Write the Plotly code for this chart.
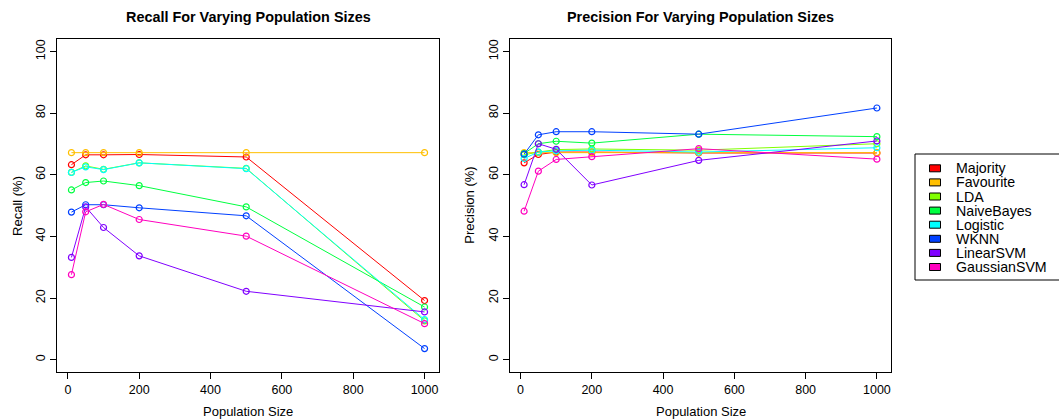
import plotly.graph_objects as go

# Population sizes evaluated
pop_sizes = [10, 50, 100, 200, 500, 1000]

classifiers = ["Majority", "Favourite", "LDA", "NaiveBayes", "Logistic",
               "WKNN", "LinearSVM", "GaussianSVM"]

# rainbow(8) palette
colors = ["#FF0000", "#FFBF00", "#80FF00", "#00FF40", "#00FFFF",
          "#0040FF", "#8000FF", "#FF00BF"]

# Recall (%) per classifier
recall_majority = [63.3, 66.5, 66.5, 66.6, 65.8, 19.2]
recall_favourite = [67.2, 67.2, 67.2, 67.2, 67.2, 67.2]
recall_lda = [60.8, 62.9, 61.8, 63.9, 62.1, 12.6]
recall_naivebayes = [55.1, 57.5, 58.0, 56.5, 49.6, 17.1]
recall_logistic = [60.8, 62.6, 61.7, 63.9, 62.0, 13.0]
recall_wknn = [47.9, 50.3, 50.3, 49.3, 46.7, 3.6]
recall_linearsvm = [33.2, 49.6, 42.9, 33.7, 22.2, 15.5]
recall_gaussiansvm = [27.6, 48.0, 50.4, 45.5, 40.1, 11.7]

# Precision (%) per classifier
precision_majority = [63.9, 66.6, 67.4, 67.4, 67.1, 67.1]
precision_favourite = [67.2, 67.2, 67.2, 67.2, 67.2, 67.2]
precision_lda = [66.5, 67.4, 68.2, 68.4, 68.0, 70.1]
precision_naivebayes = [66.9, 70.1, 70.9, 70.3, 73.2, 72.4]
precision_logistic = [65.3, 67.4, 67.8, 68.0, 67.4, 68.8]
precision_wknn = [66.7, 73.0, 74.0, 74.0, 73.2, 81.7]
precision_linearsvm = [56.8, 70.1, 68.3, 56.7, 64.7, 71.0]
precision_gaussiansvm = [48.2, 61.2, 65.0, 65.9, 68.5, 65.1]

recall = [recall_majority, recall_favourite, recall_lda, recall_naivebayes,
          recall_logistic, recall_wknn, recall_linearsvm, recall_gaussiansvm]
precision = [precision_majority, precision_favourite, precision_lda,
             precision_naivebayes, precision_logistic, precision_wknn,
             precision_linearsvm, precision_gaussiansvm]

x_ticks = [0, 200, 400, 600, 800, 1000]
y_ticks = [0, 20, 40, 60, 80, 100]

W, H = 1059, 419
FONT = "Liberation Sans, Arial, Helvetica, sans-serif"


def px_x(p):
    return p / W


def px_y(p):
    return 1 - p / H


fig = go.Figure()

for panel, data in ((1, recall), (2, precision)):
    for name, vals, col in zip(classifiers, data, colors):
        fig.add_trace(go.Scatter(
            x=pop_sizes, y=vals, mode="lines+markers", name=name,
            line=dict(color=col, width=1),
            marker=dict(symbol="circle-open", size=6, color=col,
                        line=dict(width=1.2, color=col)),
            xaxis="x" if panel == 1 else "x2",
            yaxis="y" if panel == 1 else "y2",
            showlegend=False,
        ))

box_top, box_bottom = 39.3, 372.0
panels = [(57.3, 438.7), (510.0, 891.0)]

axis_common = dict(
    showgrid=False, zeroline=False, showline=True, mirror=True,
    linecolor="black", linewidth=1, ticks="outside", ticklen=6,
    tickcolor="black", tickwidth=1,
    tickfont=dict(family=FONT, size=12.5, color="black"),
)

for i, (l, r) in enumerate(panels):
    sfx = "" if i == 0 else "2"
    fig.layout["xaxis" + sfx] = dict(
        axis_common, domain=[px_x(l), px_x(r)], range=[-29.6, 1039.6],
        tickvals=x_ticks, anchor="y" + sfx,
    )
    fig.layout["yaxis" + sfx] = dict(
        axis_common, domain=[px_y(box_bottom), px_y(box_top)],
        range=[-4, 104], tickvals=y_ticks, tickangle=-90,
        anchor="x" + sfx,
    )

annotations = []
titles = ["Recall For Varying Population Sizes",
          "Precision For Varying Population Sizes"]
ytitles = ["Recall (%)", "Precision (%)"]
for (l, r), t, yt in zip(panels, titles, ytitles):
    cx = (l + r) / 2
    annotations.append(dict(
        text="<b>" + t + "</b>", x=px_x(cx), y=px_y(17), xref="paper",
        yref="paper", showarrow=False, xanchor="center", yanchor="middle",
        font=dict(family=FONT, size=14.4, color="black")))
    annotations.append(dict(
        text="Population Size", x=px_x(cx), y=px_y(411), xref="paper",
        yref="paper", showarrow=False, xanchor="center", yanchor="middle",
        font=dict(family=FONT, size=13, color="black")))
    annotations.append(dict(
        text=yt, x=px_x(l - 40), y=px_y((box_top + box_bottom) / 2),
        xref="paper", yref="paper", showarrow=False, textangle=-90,
        xanchor="center", yanchor="middle",
        font=dict(family=FONT, size=13, color="black")))

# Legend: framed box with filled swatches
shapes = [dict(type="rect", xref="paper", yref="paper",
               x0=px_x(915), x1=px_x(1075), y0=px_y(280), y1=px_y(154),
               line=dict(color="black", width=1), fillcolor="white")]
for k, (name, col) in enumerate(zip(classifiers, colors)):
    cy = 168.3 + k * 14.1
    shapes.append(dict(type="rect", xref="paper", yref="paper",
                       x0=px_x(929.5), x1=px_x(940.5),
                       y0=px_y(cy + 3.5), y1=px_y(cy - 3.5),
                       line=dict(color="black", width=1), fillcolor=col))
    annotations.append(dict(
        text=name, x=px_x(954), y=px_y(cy), xref="paper", yref="paper",
        showarrow=False, xanchor="left", yanchor="middle",
        font=dict(family=FONT, size=14.2, color="black")))

fig.update_layout(
    width=W, height=H, margin=dict(l=0, r=0, t=0, b=0),
    paper_bgcolor="white", plot_bgcolor="white",
    annotations=annotations, shapes=shapes, showlegend=False,
)

fig.write_html("out.html")
